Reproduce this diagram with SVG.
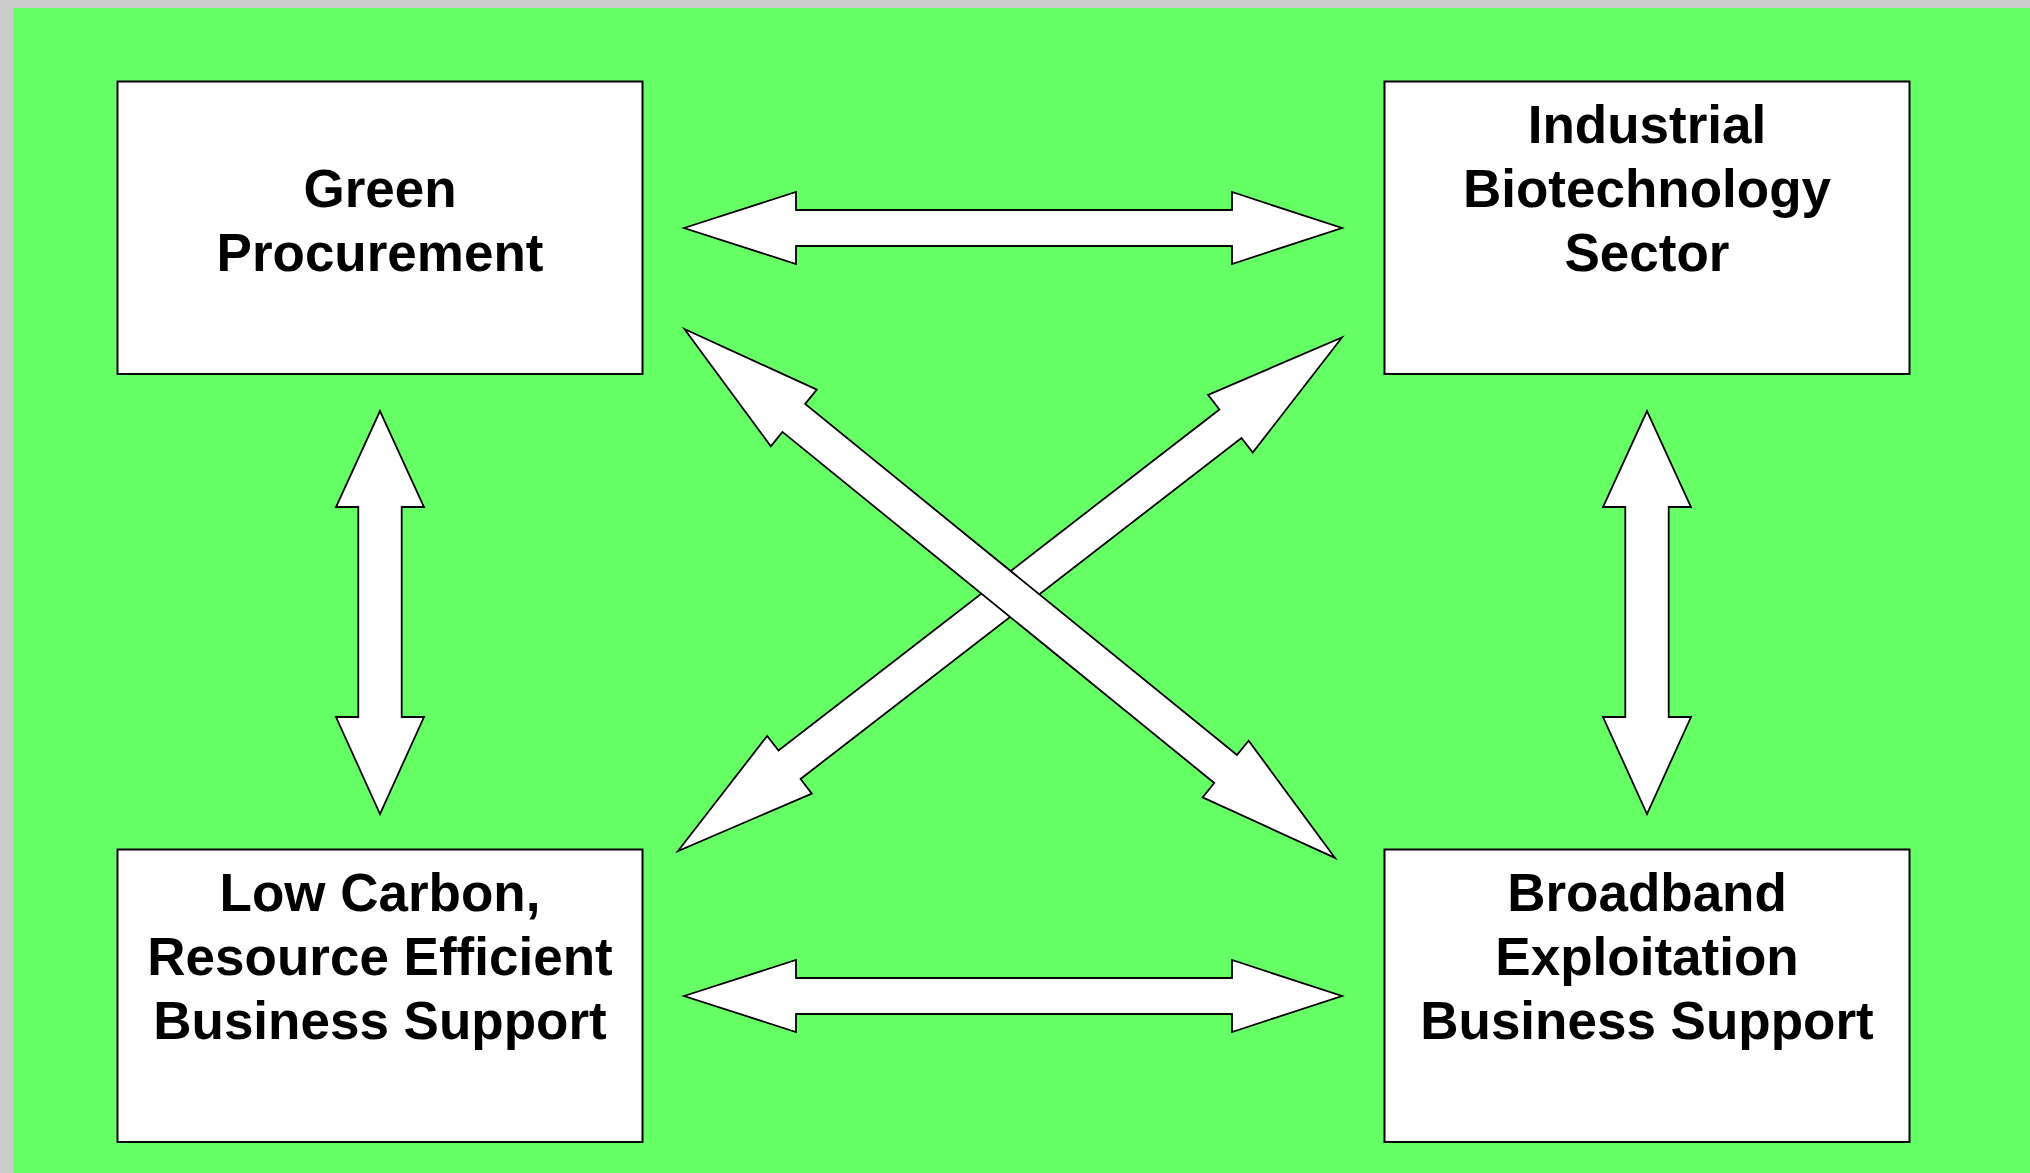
<svg xmlns="http://www.w3.org/2000/svg" width="2030" height="1173" viewBox="0 0 2030 1173">
<style>
.box{fill:#ffffff;stroke:#000000;stroke-width:2}
.arr{fill:#ffffff;stroke:#000000;stroke-width:1.8;stroke-linejoin:miter}
.lbl{font-family:"Liberation Sans",Arial,sans-serif;font-weight:bold;font-size:53px;fill:#000000;text-anchor:middle}
</style>
<rect x="0" y="0" width="2030" height="1173" fill="#cccccc"/>
<rect x="13" y="8" width="2017" height="1165" fill="#66ff66"/>
<g id="connectors">
<polygon class="arr" points="684,228 796,192 796,210 1232,210 1232,192 1342,228 1232,264 1232,246 796,246 796,264"/>
<polygon class="arr" points="684,996 796,960 796,978 1232,978 1232,960 1342,996 1232,1032 1232,1014 796,1014 796,1032"/>
<polygon class="arr" points="380,411 424,507 401.7,507 401.7,717 424,717 380,814 336,717 358.3,717 358.3,507 336,507"/>
<polygon class="arr" points="1647,411 1691,507 1668.7,507 1668.7,717 1691,717 1647,814 1603,717 1625.3,717 1625.3,507 1603,507"/>
<polygon class="arr" transform="translate(678,851) rotate(-37.72)" points="0,0 141,-36.5 141,-18 698.4,-18 698.4,-36.5 839.4,0 698.4,36.5 698.4,18 141,18 141,36.5"/>
<polygon class="arr" transform="translate(684.4,329) rotate(39.11)" points="0,0 141,-36.5 141,-18 697.5,-18 697.5,-36.5 838.5,0 697.5,36.5 697.5,18 141,18 141,36.5"/>
</g>
<g id="green-procurement">
<rect class="box" x="117.5" y="81.5" width="525" height="292.5"/>
<text class="lbl"><tspan x="380" y="207">Green</tspan><tspan x="380" y="271">Procurement</tspan></text>
</g>
<g id="industrial-biotechnology">
<rect class="box" x="1384.5" y="81.5" width="525" height="292.5"/>
<text class="lbl"><tspan x="1647" y="143">Industrial</tspan><tspan x="1647" y="207">Biotechnology</tspan><tspan x="1647" y="271">Sector</tspan></text>
</g>
<g id="low-carbon">
<rect class="box" x="117.5" y="849.5" width="525" height="292.5"/>
<text class="lbl"><tspan x="380" y="911">Low Carbon,</tspan><tspan x="380" y="975">Resource Efficient</tspan><tspan x="380" y="1039">Business Support</tspan></text>
</g>
<g id="broadband">
<rect class="box" x="1384.5" y="849.5" width="525" height="292.5"/>
<text class="lbl"><tspan x="1647" y="911">Broadband</tspan><tspan x="1647" y="975">Exploitation</tspan><tspan x="1647" y="1039">Business Support</tspan></text>
</g>
</svg>
